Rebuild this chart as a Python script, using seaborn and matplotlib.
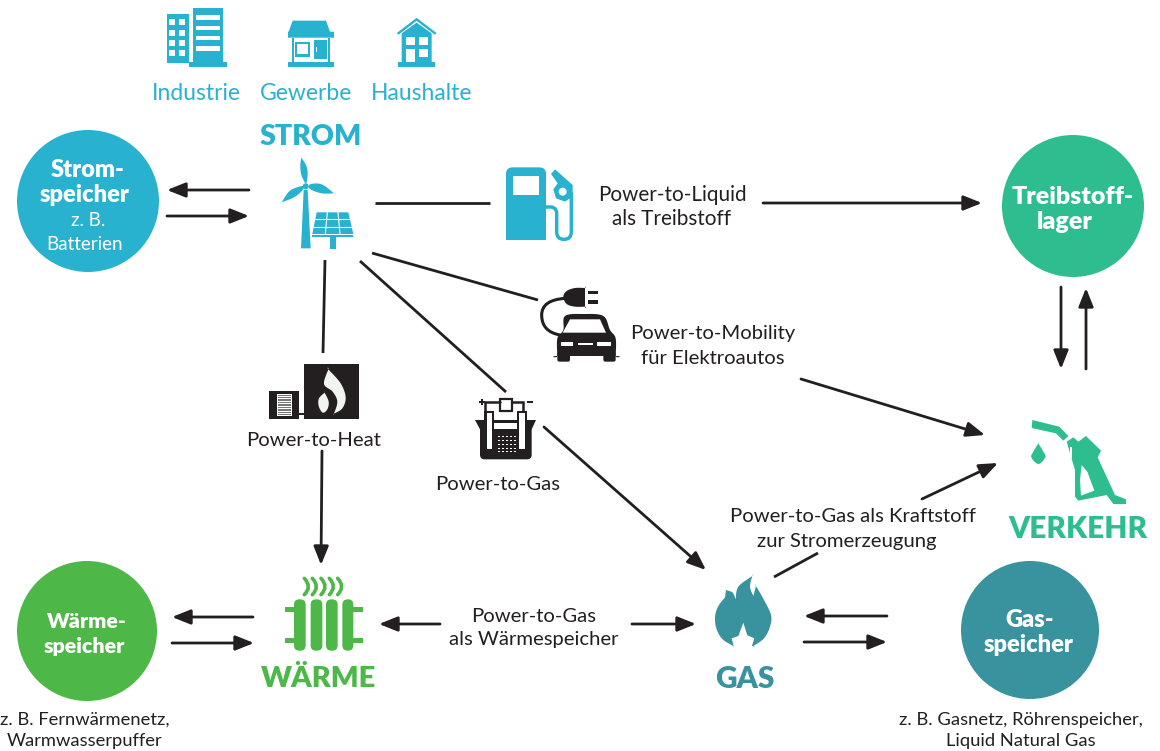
import matplotlib
matplotlib.use('Agg')
import matplotlib.pyplot as plt
import seaborn as sns
import numpy as np
import pandas as pd
from matplotlib.patches import Polygon, Rectangle, Circle, FancyBboxPatch, PathPatch
from matplotlib.path import Path
from matplotlib.transforms import Affine2D

# colours of the four sectors
BLUE = '#29B2D0'
TEAL = '#2EBD8F'
GREEN = '#4DB848'
GAS = '#38939F'
INK = '#231F20'

# storage circles
store_x = [88, 1073, 87, 1030]
store_y = [201, 206, 631, 630]
store_d = [142, 142, 140, 138]
store_colors = [BLUE, TEAL, GREEN, GAS]

# plain connecting lines (x0, y0, x1, y1)
plain_lines = [
    (375, 203, 490, 203),
    (372, 253, 538, 300),
    (360, 261, 506, 392),
    (325, 260, 323, 353),
    (774, 577, 818, 553),
]
# lines with a head at the end
arrows = [
    (249, 190, 167, 190), (167, 216, 249, 216),
    (763, 203, 982, 203),
    (322, 451, 321, 565),
    (544, 427, 706, 570),
    (801, 379, 985, 435),
    (922, 499, 998, 463),
    (1061, 287, 1061, 369), (1086, 369, 1086, 288),
    (253, 617, 172, 617), (172, 643, 254, 643),
    (440, 624, 379, 624), (632, 624, 696, 624),
    (887, 616, 804, 616), (804, 642, 887, 642),
]

# text: x, y, string, colour, size, weight
labels = [
    (196, 93, 'Industrie', BLUE, 16.5, 'normal'),
    (306, 93, 'Gewerbe', BLUE, 16.5, 'normal'),
    (422, 93, 'Haushalte', BLUE, 16.5, 'normal'),
    (311, 137, 'STROM', BLUE, 20.5, 'heavy'),
    (88, 170, 'Strom-', 'white', 17, 'heavy'),
    (85, 195, 'speicher', 'white', 17, 'heavy'),
    (88, 221, 'z. B.', 'white', 13.5, 'normal'),
    (85, 245, 'Batterien', 'white', 13.5, 'normal'),
    (1073, 197, 'Treibstoff-', 'white', 18, 'heavy'),
    (1065, 222, 'lager', 'white', 18, 'heavy'),
    (87, 622, 'Wärme-', 'white', 15.4, 'heavy'),
    (84, 646, 'speicher', 'white', 15.4, 'heavy'),
    (1030, 620, 'Gas-', 'white', 17, 'heavy'),
    (1029, 645, 'speicher', 'white', 17, 'heavy'),
    (672, 195, 'Power-to-Liquid', INK, 14.9, 'normal'),
    (672, 219, 'als Treibstoff', INK, 14.9, 'normal'),
    (713, 334, 'Power-to-Mobility', INK, 14.6, 'normal'),
    (713, 358, 'für Elektroautos', INK, 14.6, 'normal'),
    (314, 441, 'Power-to-Heat', INK, 14.6, 'normal'),
    (498, 484, 'Power-to-Gas', INK, 14.6, 'normal'),
    (853, 517, 'Power-to-Gas als Kraftstoff', INK, 14.6, 'normal'),
    (847, 542, 'zur Stromerzeugung', INK, 14.6, 'normal'),
    (534, 616, 'Power-to-Gas', INK, 14.6, 'normal'),
    (534, 640, 'als Wärmespeicher', INK, 14.6, 'normal'),
    (319, 679, 'WÄRME', GREEN, 21, 'heavy'),
    (745, 679, 'GAS', GAS, 21.5, 'heavy'),
    (1078, 529, 'VERKEHR', TEAL, 21.5, 'heavy'),
    (85, 720, 'z. B. Fernwärmenetz,', INK, 13.2, 'normal'),
    (85, 741, 'Warmwasserpuffer', INK, 13.2, 'normal'),
    (1021, 720, 'z. B. Gasnetz, Röhrenspeicher,', INK, 13.2, 'normal'),
    (1021, 741, 'Liquid Natural Gas', INK, 13.2, 'normal'),
]

sns.set_theme(style='white')
plt.rcParams['font.family'] = ['Lato', 'DejaVu Sans']

fig = plt.figure(figsize=(11.6, 7.51), dpi=100)
ax = fig.add_axes([0, 0, 1, 1])

# circles, scatter size is in points squared
stores = pd.DataFrame({'x': store_x, 'y': store_y, 'area': [(d * 0.72) ** 2 for d in store_d]})
sns.scatterplot(data=stores, x='x', y='y', s=stores['area'], c=store_colors, linewidth=0, ax=ax, legend=False, zorder=2)

for x0, y0, x1, y1 in plain_lines:
    sns.lineplot(x=[x0, x1], y=[y0, y1], color=INK, lw=2.0, ax=ax, estimator=None, sort=False, solid_capstyle='butt')
for x0, y0, x1, y1 in arrows:
    ax.annotate('', xy=(x1, y1), xytext=(x0, y0),
                arrowprops=dict(arrowstyle='-|>,head_length=0.8,head_width=0.32', color=INK, lw=2.0,
                                shrinkA=0, shrinkB=0, mutation_scale=14))
ax.set_xlim(0, 1160)
ax.set_ylim(751, 0)
ax.axis('off')


# the icons are drawn in the pixels of a 3x crop, ox/oy is the crop corner
def frame(ox, oy):
    return Affine2D().scale(1 / 3).translate(ox, oy) + ax.transData


# closed catmull-rom outline, a repeated point keeps a tip sharp
def smooth(pts, n=8):
    p = np.array(pts, dtype=float)
    out = []
    for i in range(len(p)):
        p0, p1, p2, p3 = p[i - 1], p[i], p[(i + 1) % len(p)], p[(i + 2) % len(p)]
        for u in np.linspace(0, 1, n, endpoint=False):
            out.append(0.5 * (2 * p1 + (p2 - p0) * u + (2 * p0 - 5 * p1 + 4 * p2 - p3) * u ** 2
                              + (3 * p1 - p0 - 3 * p2 + p3) * u ** 3))
    return out


def poly(tr, pts, color, z=3):
    ax.add_patch(Polygon(pts, closed=True, fc=color, ec='none', transform=tr, zorder=z))


def rect(tr, x0, y0, x1, y1, color):
    ax.add_patch(Rectangle((x0, y0), x1 - x0, y1 - y0, fc=color, ec='none', transform=tr, zorder=4))


def rrect(tr, x0, y0, x1, y1, r, color):
    ax.add_patch(FancyBboxPatch((x0 + r, y0 + r), x1 - x0 - 2 * r, y1 - y0 - 2 * r, boxstyle=f'round,pad={r}',
                                fc=color, ec='none', transform=tr, zorder=3))


def dot(tr, x, y, r, color):
    ax.add_patch(Circle((x, y), r, fc=color, ec='none', transform=tr, zorder=5))


def stroke(tr, pts, color, lw=1.9, codes=None):
    ax.add_patch(PathPatch(Path(pts, codes), fc='none', ec=color, lw=lw, transform=tr, zorder=4, capstyle='round'))


# --- buildings, wind and solar
t = frame(140, 0)
rect(t, 80, 42, 147, 188, BLUE)
for wy in (58, 90, 120, 150):
    rect(t, 88, wy, 106, wy + 18, 'white')
    rect(t, 118, wy, 135, wy + 18, 'white')
rect(t, 160, 24, 248, 190, BLUE)
rect(t, 148, 186, 260, 200, BLUE)
for wy in (46, 77, 107, 138):
    rect(t, 168, wy, 240, wy + 14, 'white')

poly(t, [(458, 62), (558, 62), (570, 95), (582, 95), (582, 113), (444, 113), (444, 95), (446, 95)], BLUE)
rect(t, 455, 113, 461, 190, BLUE)
rect(t, 565, 113, 571, 190, BLUE)
rect(t, 444, 185, 582, 200, BLUE)
rect(t, 465, 125, 510, 170, BLUE)
rect(t, 472, 132, 503, 163, 'white')
rect(t, 523, 120, 560, 178, BLUE)
rect(t, 527, 140, 530, 155, 'white')

stroke(t, [(775, 100), (830, 58), (885, 100)], BLUE, 1.7)
poly(t, [(785, 100), (830, 68), (875, 100), (875, 190), (785, 190)], BLUE)
rect(t, 798, 110, 825, 135, 'white')
rect(t, 836, 110, 864, 135, 'white')
rect(t, 798, 147, 825, 186, 'white')
rect(t, 836, 147, 864, 172, 'white')
rect(t, 774, 186, 885, 200, BLUE)

poly(t, [(483, 745), (512, 745), (503, 570), (491, 570)], BLUE)
dot(t, 497, 559, 9, BLUE)
poly(t, smooth([(484, 473), (484, 473), (498, 495), (503, 520), (498, 550), (484, 525), (481, 495)]), BLUE)
poly(t, smooth([(510, 553), (545, 553), (582, 580), (582, 580), (545, 580), (510, 567)]), BLUE)
poly(t, smooth([(425, 607), (425, 607), (450, 572), (488, 558), (488, 570), (462, 592)]), BLUE)
poly(t, [(530, 637), (625, 637), (640, 702), (517, 702)], BLUE)
stroke(t, [(525, 658), (631, 658)], 'white', 0.8)
stroke(t, [(521, 680), (636, 680)], 'white', 0.8)
stroke(t, [(562, 637), (556, 702)], 'white', 0.8)
stroke(t, [(594, 637), (600, 702)], 'white', 0.8)
rect(t, 517, 705, 640, 712, BLUE)
rect(t, 570, 712, 588, 747, BLUE)

# --- fuel pump
t = frame(490, 150)
rrect(t, 48, 52, 168, 290, 20, BLUE)
rect(t, 48, 270, 168, 292, 'white')
rect(t, 70, 78, 146, 135, 'white')
hose = [(165, 172), (200, 165), (200, 190), (200, 245), (200, 268), (222, 268), (244, 268), (244, 245), (244, 130)]
stroke(t, hose, BLUE, 2.5,
       [Path.MOVETO, Path.CURVE3, Path.CURVE3, Path.LINETO, Path.CURVE3, Path.CURVE3, Path.CURVE3, Path.CURVE3, Path.LINETO])
poly(t, [(195, 58), (248, 105), (248, 140), (225, 155), (198, 145), (190, 118), (203, 100), (183, 72)], BLUE)
dot(t, 218, 125, 12, 'white')

# --- heat, electrolyser, car
t = frame(250, 280)
rect(t, 162, 252, 327, 416, INK)
rect(t, 57, 333, 147, 416, INK)
rect(t, 147, 398, 162, 405, INK)
poly(t, smooth([(235, 268), (235, 268), (272, 310), (287, 352), (277, 385), (252, 401), (252, 401), (262, 365),
                (248, 335), (222, 312)]), '#F2F4F0', z=5)
poly(t, smooth([(224, 338), (224, 338), (236, 365), (232, 388), (218, 398), (206, 378), (207, 355)]), '#F2F4F0', z=5)
rect(t, 80, 343, 126, 407, 'white')
for cy in range(346, 406, 5):
    rect(t, 84, cy, 122, cy + 3, '#777777')

stroke(t, [(705, 395), (705, 366), (750, 366)], INK, 1.8)
stroke(t, [(785, 366), (820, 366), (820, 395)], INK, 1.8)
ax.add_patch(Rectangle((750, 358), 35, 35, fc='none', ec=INK, lw=1.6, transform=t, zorder=4))
rect(t, 686, 362, 704, 369, INK)
rect(t, 692, 356, 699, 375, INK)
rect(t, 830, 362, 848, 369, INK)
rect(t, 702, 393, 732, 425, INK)
rect(t, 802, 393, 832, 425, INK)
rrect(t, 690, 420, 845, 538, 14, INK)
poly(t, [(675, 420), (858, 420), (845, 448), (690, 448)], INK)
rect(t, 732, 428, 802, 448, 'white')
rect(t, 710, 400, 725, 508, 'white')
rect(t, 808, 400, 825, 508, 'white')
for px in (745, 757, 769, 781, 792):
    for py in (468, 480, 492, 504, 512):
        rect(t, px, py, px + 5, py + 4, 'white')

stroke(t, [(945, 55), (875, 60), (875, 105), (875, 155), (930, 165)], INK, 2.2,
       [Path.MOVETO, Path.CURVE3, Path.CURVE3, Path.CURVE3, Path.CURVE3])
poly(t, smooth([(940, 50), (950, 33), (975, 24), (1005, 24), (1005, 24), (1005, 80), (1005, 80), (975, 80), (950, 72)]), INK)
rect(t, 1015, 32, 1045, 43, INK)
rect(t, 1015, 60, 1045, 72, INK)
poly(t, smooth([(945, 108), (1000, 102), (1060, 108), (1080, 150), (1097, 175), (1097, 228), (1097, 228),
                (922, 228), (922, 228), (922, 175), (940, 150)]), INK)
poly(t, [(960, 118), (1050, 118), (1068, 158), (938, 158)], 'white', z=5)
rrect(t, 922, 215, 960, 245, 6, INK)
rrect(t, 1060, 215, 1097, 245, 6, INK)
rect(t, 932, 185, 968, 197, 'white')
rect(t, 1042, 185, 1082, 197, 'white')
rect(t, 985, 190, 1030, 194, 'white')

# --- fuel nozzle
t = frame(1000, 400)
poly(t, [(97, 60), (178, 80), (205, 108), (190, 122), (168, 100), (95, 84)], TEAL)
poly(t, [(200, 125), (220, 112), (235, 125), (258, 108), (303, 152), (293, 172), (345, 285), (378, 298),
         (378, 312), (340, 312), (320, 285), (235, 302), (225, 290), (225, 210)], TEAL)
poly(t, [(245, 195), (262, 215), (283, 272), (243, 287), (240, 240)], 'white', z=5)
rect(t, 209, 140, 215, 175, 'white')
poly(t, smooth([(115, 130), (115, 130), (100, 155), (94, 172), (115, 192), (136, 172), (130, 155)]), TEAL)

# --- radiator
t = frame(260, 560)
for cx0, cx1 in [(102, 137), (152, 187), (198, 233), (247, 280)]:
    rrect(t, cx0, 118, cx1, 272, 16, GREEN)
for px0, px1 in [(75, 105), (278, 308)]:
    rect(t, px0, 142, px1, 157, GREEN)
    rect(t, px0, 233, px1, 248, GREEN)
for sx in (133, 157, 183, 208, 233):
    stroke(t, [(sx, 55), (sx + 24, 80), (sx, 104)], GREEN, 2.6, [Path.MOVETO, Path.CURVE3, Path.CURVE3])

# --- gas flame
t = frame(690, 560)
poly(t, smooth([(75, 172), (84, 140), (105, 112), (105, 112), (108, 90), (108, 90), (128, 98), (137, 118), (137, 118),
                (145, 80), (187, 48), (187, 48), (180, 80), (190, 108), (190, 108), (198, 78), (198, 78), (222, 120),
                (243, 165), (240, 200), (222, 235), (190, 258), (190, 258), (130, 258), (130, 258), (98, 238), (80, 208)]), GAS)
poly(t, [(125, 235), (145, 228), (160, 188), (172, 226), (193, 235), (185, 260), (132, 262)], 'white', z=5)

for x, y, s, c, size, weight in labels:
    ax.text(x, y, s, color=c, fontsize=size, fontweight=weight, ha='center', va='center', zorder=6)

fig.savefig('out.png', dpi=100, facecolor='white')
